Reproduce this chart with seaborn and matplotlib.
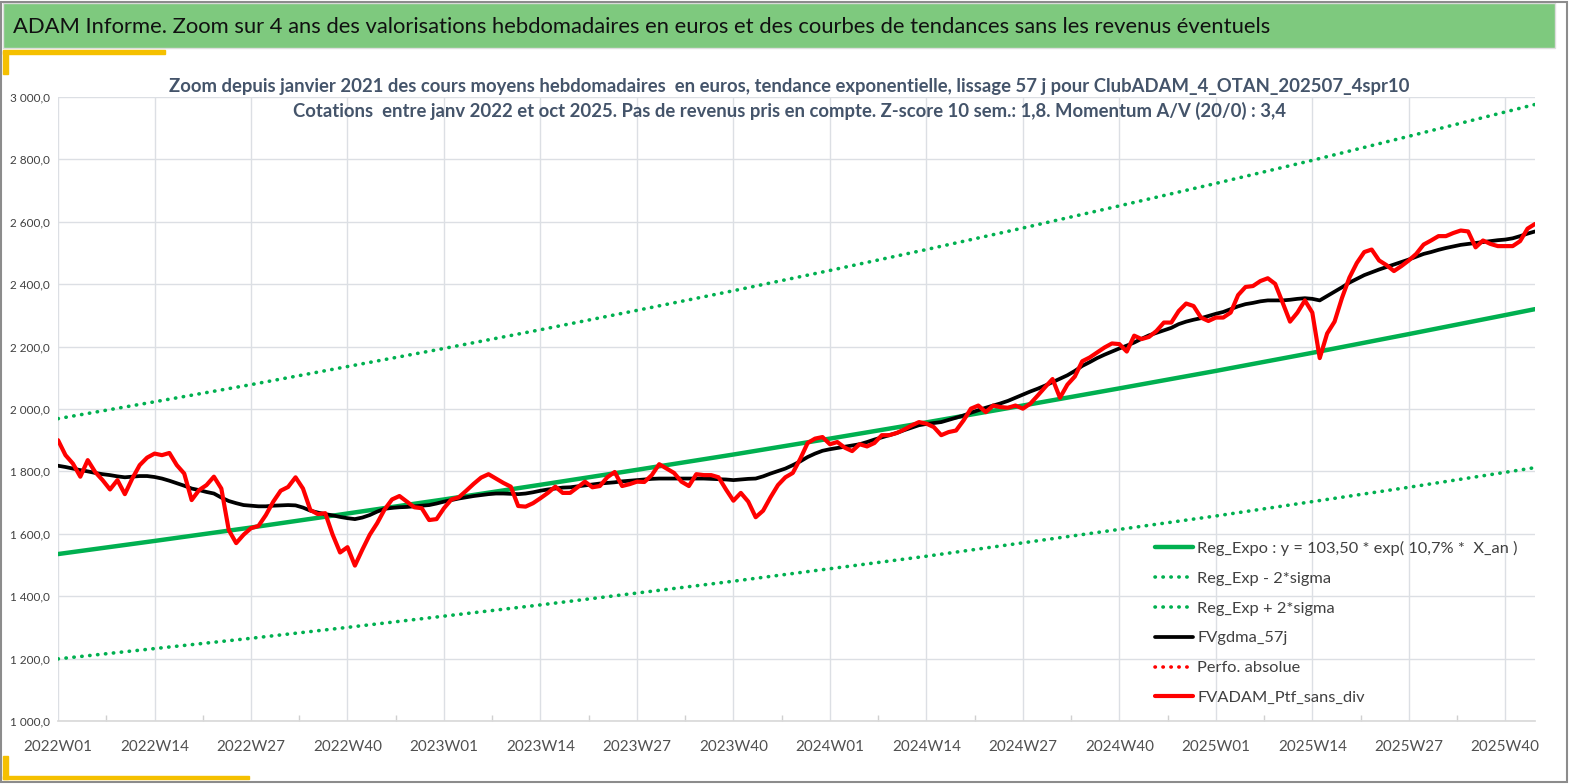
import numpy as np
import pandas as pd
import seaborn as sns
import matplotlib.pyplot as plt
from matplotlib.lines import Line2D
from matplotlib.patches import Rectangle
from matplotlib.ticker import FuncFormatter

# semaines 2022W01 -> 2025W44 (200 points hebdo)
years = [2022, 2023, 2024, 2025]
week_labels = [f"{y}W{w:02d}" for y in years for w in range(1, 53)][:200]

ptf = [1900, 1852, 1825, 1783, 1836, 1798, 1772, 1742, 1772, 1727,
       1777, 1820, 1844, 1857, 1852, 1859, 1820, 1793, 1708, 1740,
       1756, 1783, 1745, 1612, 1570, 1597, 1618, 1625, 1660, 1703,
       1738, 1750, 1781, 1745, 1676, 1663, 1666, 1597, 1540, 1557,
       1498, 1549, 1597, 1634, 1678, 1710, 1721, 1703, 1685, 1682,
       1644, 1647, 1682, 1710, 1717, 1738, 1760, 1780, 1791, 1777,
       1763, 1751, 1689, 1687, 1698, 1714, 1731, 1751, 1731, 1731,
       1749, 1767, 1749, 1753, 1781, 1798, 1753, 1759, 1767, 1766,
       1788, 1823, 1809, 1795, 1767, 1753, 1791, 1788, 1788, 1781,
       1742, 1706, 1731, 1703, 1653, 1674, 1717, 1756, 1781, 1795,
       1840, 1891, 1905, 1910, 1887, 1894, 1876, 1865, 1887, 1880,
       1891, 1916, 1916, 1923, 1934, 1947, 1958, 1953, 1942, 1916,
       1926, 1931, 1963, 2001, 2011, 1990, 2011, 2006, 2004, 2011,
       2001, 2017, 2043, 2070, 2096, 2036, 2078, 2104, 2153, 2165,
       2181, 2197, 2210, 2208, 2184, 2235, 2224, 2231, 2250, 2277,
       2277, 2314, 2338, 2330, 2293, 2282, 2293, 2293, 2309, 2365,
       2391, 2394, 2410, 2419, 2401, 2341, 2280, 2309, 2348, 2309,
       2163, 2242, 2280, 2356, 2421, 2468, 2503, 2511, 2476, 2461,
       2442, 2458, 2476, 2497, 2527, 2540, 2554, 2554, 2564, 2572,
       2569, 2518, 2540, 2529, 2522, 2522, 2522, 2538, 2578, 2593]

gdma = [1818, 1814, 1809, 1804, 1800, 1795, 1791, 1788, 1784, 1781,
        1783, 1785, 1785, 1782, 1777, 1770, 1762, 1754, 1745, 1740,
        1734, 1729, 1716, 1705, 1698, 1692, 1690, 1688, 1688, 1690,
        1691, 1692, 1691, 1684, 1674, 1668, 1663, 1659, 1654, 1650,
        1647, 1652, 1660, 1671, 1680, 1683, 1685, 1686, 1688, 1690,
        1692, 1697, 1703, 1708, 1713, 1717, 1721, 1724, 1727, 1729,
        1729, 1728, 1727, 1729, 1733, 1738, 1742, 1745, 1748, 1749,
        1752, 1755, 1758, 1761, 1763, 1765, 1768, 1770, 1772, 1774,
        1776, 1777, 1777, 1777, 1777, 1777, 1777, 1777, 1776, 1775,
        1774, 1772, 1774, 1776, 1777, 1784, 1793, 1801, 1809, 1820,
        1832, 1846, 1857, 1866, 1871, 1875, 1879, 1883, 1887, 1894,
        1902, 1909, 1916, 1923, 1932, 1940, 1948, 1952, 1955, 1958,
        1965, 1972, 1979, 1988, 1996, 2004, 2011, 2018, 2026, 2036,
        2046, 2056, 2065, 2075, 2086, 2097, 2108, 2122, 2138, 2150,
        2163, 2174, 2184, 2194, 2203, 2213, 2225, 2236, 2244, 2252,
        2260, 2272, 2280, 2286, 2291, 2298, 2305, 2311, 2320, 2329,
        2336, 2340, 2345, 2348, 2348, 2348, 2350, 2353, 2355, 2353,
        2348, 2362, 2376, 2390, 2405, 2417, 2429, 2438, 2447, 2455,
        2463, 2471, 2479, 2488, 2497, 2503, 2510, 2516, 2521, 2526,
        2529, 2532, 2535, 2538, 2541, 2543, 2547, 2554, 2562, 2569]

# tendance expo et bandes +/- 2 sigma, lues tous les 13 pas
trend_idx = [0, 13, 26, 39, 52, 65, 78, 91, 104, 117, 130, 143, 156, 169, 182, 195, 199]
trend = [1535, 1577, 1620, 1665, 1710, 1757, 1805, 1854, 1905, 1957, 2011, 2066, 2122, 2180, 2240, 2301, 2320]
upper = [1969, 2023, 2078, 2136, 2194, 2254, 2316, 2379, 2444, 2511, 2580, 2651, 2723, 2797, 2874, 2952, 2976]
lower = [1199, 1232, 1265, 1300, 1336, 1372, 1410, 1448, 1488, 1528, 1571, 1614, 1657, 1703, 1749, 1797, 1812]

GREEN = '#00B050'
sns.set_theme(style='white')
plt.rcParams['font.family'] = ['Lato', 'DejaVu Sans']

fig = plt.figure(figsize=(15.69, 7.84), dpi=100)
ax = fig.add_axes([0.037, 0.0804, 0.9413, 0.7959])

weeks = np.arange(len(ptf))
dot = dict(linestyle=(0, (0.1, 2.1)), dash_capstyle='round', linewidth=2.6)
sns.lineplot(x=trend_idx, y=upper, ax=ax, color=GREEN, **dot)
sns.lineplot(x=trend_idx, y=lower, ax=ax, color=GREEN, **dot)
sns.lineplot(x=trend_idx, y=trend, ax=ax, color=GREEN, linewidth=3.2)
sns.lineplot(x=weeks, y=gdma, ax=ax, color='black', linewidth=2.7)
sns.lineplot(x=weeks, y=ptf, ax=ax, color='#FF0000', linewidth=3.0)

ax.set_xlim(0, 199)
ax.set_ylim(1000, 3000)
ax.set_yticks(np.arange(1000, 3001, 200))
ax.yaxis.set_major_formatter(FuncFormatter(lambda v, p: f"{int(v):,}".replace(',', ' ') + ',0'))
ax.set_xticks(np.arange(0, 200, 13))
ax.set_xticklabels([week_labels[i] for i in range(0, 200, 13)])
ax.set_xticks(np.arange(6.5, 200, 13), minor=True)
ax.grid(True, which='major', color='#DCDFE4', linewidth=1)
ax.grid(False, which='minor')
ax.tick_params(axis='y', labelsize=8.5, labelcolor='#404040', length=0, pad=6)
ax.tick_params(axis='x', labelsize=11, labelcolor='#505050', length=0, pad=14)
ax.tick_params(axis='x', which='minor', direction='in', length=4, color='#D0D0D0', bottom=True)
for s in ['top', 'right', 'left']:
    ax.spines[s].set_visible(False)
ax.spines['bottom'].set_color('#D9D9D9')
ax.set_xlabel('')
ax.set_ylabel('')

handles = [
    Line2D([], [], color=GREEN, linewidth=3.2),
    Line2D([], [], color=GREEN, **dot),
    Line2D([], [], color=GREEN, **dot),
    Line2D([], [], color='black', linewidth=2.7),
    Line2D([], [], color='#FF0000', **dot),
    Line2D([], [], color='#FF0000', linewidth=3.0),
]
labels = ['Reg_Expo : y = 103,50 * exp( 10,7% *  X_an )', 'Reg_Exp - 2*sigma',
          'Reg_Exp + 2*sigma', 'FVgdma_57j', 'Perfo. absolue', 'FVADAM_Ptf_sans_div']
leg = ax.legend(handles, labels, loc='upper left', bbox_to_anchor=(0.737, 0.302),
                frameon=False, fontsize=11.8, handlelength=2.35, handletextpad=0.25,
                labelspacing=0.94, borderpad=0)
for t in leg.get_texts():
    t.set_color('#404040')

# bandeau titre et cadre
fig.patches.append(Rectangle((0.002, 0.939), 0.989, 0.057, transform=fig.transFigure,
                             facecolor='#7EC97E', edgecolor='#DDDDDD', linewidth=1))
fig.text(0.008, 0.966, "ADAM Informe. Zoom sur 4 ans des valorisations hebdomadaires en euros et des courbes de tendances sans les revenus éventuels",
         fontsize=15.8, color='#111111', va='center', ha='left')
fig.text(0.503, 0.890, "Zoom depuis janvier 2021 des cours moyens hebdomadaires  en euros, tendance exponentielle, lissage 57 j pour ClubADAM_4_OTAN_202507_4spr10",
         fontsize=13.3, fontweight='bold', color='#44546A', ha='center', va='center')
fig.text(0.503, 0.859, "Cotations  entre janv 2022 et oct 2025. Pas de revenus pris en compte. Z-score 10 sem.: 1,8. Momentum A/V (20/0) : 3,4",
         fontsize=13.3, fontweight='bold', color='#44546A', ha='center', va='center')

fig.patches.append(Rectangle((0.0005, 0.002), 0.998, 0.996, transform=fig.transFigure,
                             fill=False, edgecolor='#8C8C8C', linewidth=1.5))
yellow = '#F5C000'
fig.patches.append(Rectangle((0.002, 0.931), 0.103, 0.005, transform=fig.transFigure, color=yellow))
fig.patches.append(Rectangle((0.002, 0.905), 0.003, 0.03, transform=fig.transFigure, color=yellow))
fig.patches.append(Rectangle((0.002, 0.006), 0.157, 0.004, transform=fig.transFigure, color=yellow))
fig.patches.append(Rectangle((0.002, 0.006), 0.003, 0.03, transform=fig.transFigure, color=yellow))

fig.savefig('out.png', dpi=100)
